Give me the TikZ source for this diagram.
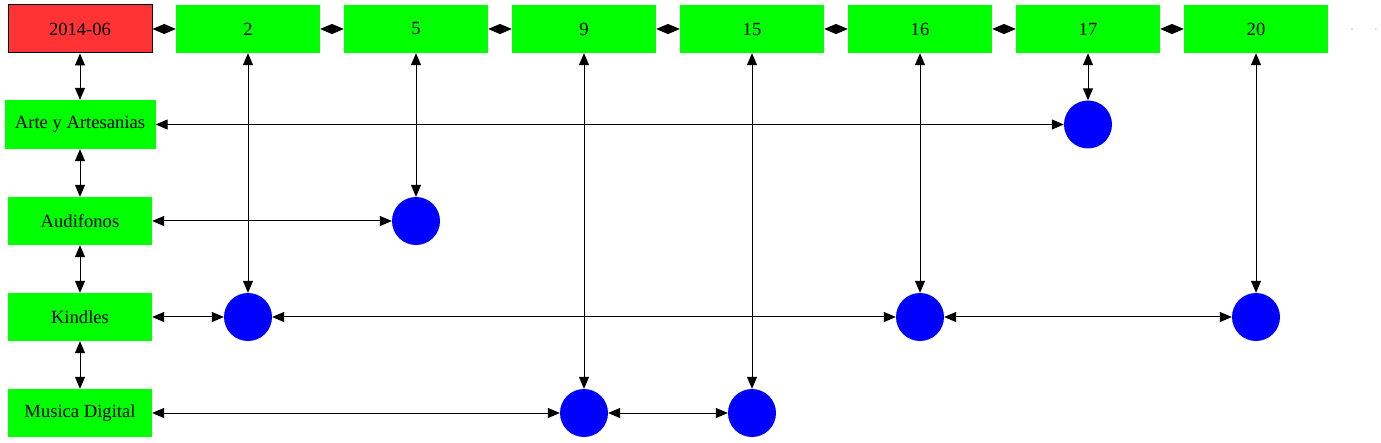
\documentclass[tikz,border=0pt]{standalone}
\usepackage{fontspec}
\setmainfont{Liberation Serif}
\usetikzlibrary{arrows.meta}
\definecolor{gvgreen}{HTML}{00FF00}
\definecolor{gvred}{HTML}{FF3333}
\definecolor{gvblue}{HTML}{0000FF}
\begin{document}
\begin{tikzpicture}[x=1pt,y=-1pt,
  box/.style={rectangle,fill=gvgreen,minimum width=144pt,minimum height=48pt,inner sep=0pt,font=\fontsize{18.6}{20}\selectfont},
  datebox/.style={box,fill=gvred,draw=black,line width=1pt},
  dot/.style={circle,fill=gvblue,minimum size=48pt,inner sep=0pt},
  link/.style={draw=black,line width=1pt,{Triangle[length=12pt,width=10pt]}-{Triangle[length=12pt,width=10pt]}},
  toplink/.style={link}
]
\useasboundingbox (0,0) rectangle (1381,443);
% header row
\node[datebox] (d) at (80,29) {2014-06};
\node[box] (t2) at (248,29) {2};
\node[box] (t5) at (416,29) {5};
\node[box] (t9) at (584,29) {9};
\node[box] (t15) at (752,29) {15};
\node[box] (t16) at (920,29) {16};
\node[box] (t17) at (1088,29) {17};
\node[box] (t20) at (1256,29) {20};
% row labels
\node[box,minimum width=151pt,minimum height=49pt] (arte) at (80,124.5) {Arte y Artesanias};
\node[box] (audi) at (80,221) {Audifonos};
\node[box] (kind) at (80,317) {Kindles};
\node[box] (musi) at (80,413) {Musica Digital};
% circles
\node[dot] (c17a) at (1088,124.5) {};
\node[dot] (c5b) at (416,221) {};
\node[dot] (c2k) at (248,317) {};
\node[dot] (c16k) at (920,317) {};
\node[dot] (c20k) at (1256,317) {};
\node[dot] (c9m) at (584,413) {};
\node[dot] (c15m) at (752,413) {};
% trailing dots
\coordinate (e1) at (1352,29);
\coordinate (e2) at (1376,29);
\fill[black!50] (e1) circle (0.7pt);
\fill[black!50] (e2) circle (0.7pt);
% top chain
\draw[toplink] (d) -- (t2);
\draw[toplink] (t2) -- (t5);
\draw[toplink] (t5) -- (t9);
\draw[toplink] (t9) -- (t15);
\draw[toplink] (t15) -- (t16);
\draw[toplink] (t16) -- (t17);
\draw[toplink] (t17) -- (t20);
% left column
\draw[link] (d) -- (arte);
\draw[link] (arte) -- (audi);
\draw[link] (audi) -- (kind);
\draw[link] (kind) -- (musi);
% verticals
\draw[link] (t2) -- (c2k);
\draw[link] (t5) -- (c5b);
\draw[link] (t9) -- (c9m);
\draw[link] (t15) -- (c15m);
\draw[link] (t16) -- (c16k);
\draw[link] (t17) -- (c17a);
\draw[link] (t20) -- (c20k);
% horizontals
\draw[link] (arte) -- (c17a);
\draw[link] (audi) -- (c5b);
\draw[link] (kind) -- (c2k);
\draw[link] (c2k) -- (c16k);
\draw[link] (c16k) -- (c20k);
\draw[link] (musi) -- (c9m);
\draw[link] (c9m) -- (c15m);
\end{tikzpicture}
\end{document}
